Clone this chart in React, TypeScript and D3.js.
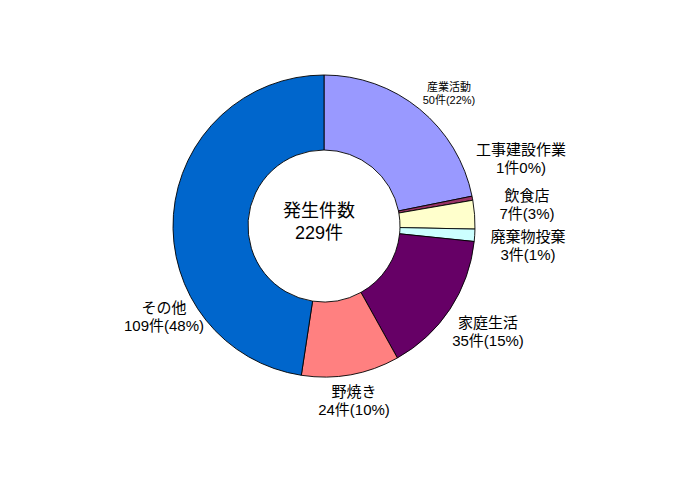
import { useEffect, useRef } from 'react';
import * as d3 from 'd3';

const categories = ['産業活動', '工事建設作業', '飲食店', '廃棄物投棄', '家庭生活', '野焼き', 'その他'];
const counts = [50, 1, 7, 3, 35, 24, 109];
const valueLabels = ['50件(22%)', '1件0%)', '7件(3%)', '3件(1%)', '35件(15%)', '24件(10%)', '109件(48%)'];
const colors = ['#9999FF', '#993366', '#FFFFCC', '#CCFFFF', '#660066', '#FF8080', '#0066CC'];
const centerTitle = '発生件数';
const centerValue = '229件';

// label anchor points (centre of text block), relative to the pie centre
const labelOffsets: [number, number][] = [
  [125, -133],
  [197, -68],
  [203, -22],
  [204, 19],
  [164, 105],
  [30, 174],
  [-160, 90],
];
const labelFontSizes = [11, 15, 15, 15, 15, 15, 15];

const FONT = '"Liberation Sans", "Noto Sans CJK JP", sans-serif';

export default function App() {
  const svgRef = useRef<SVGSVGElement>(null);
  const width = 700;
  const height = 495;

  useEffect(() => {
    document.body.style.margin = '0';
    if (!svgRef.current) return;

    const svg = d3.select(svgRef.current);
    svg.selectAll('*').remove();

    svg.append('rect')
      .attr('width', width)
      .attr('height', height)
      .attr('fill', '#fff');

    const cx = 324;
    const cy = 226;
    const outerR = 151;
    const innerR = 76;

    const g = svg.append('g')
      .attr('transform', `translate(${cx},${cy})`);

    const pie = d3.pie<number>()
      .sort(null)
      .value(d => d);

    const arc = d3.arc<d3.PieArcDatum<number>>()
      .innerRadius(innerR)
      .outerRadius(outerR);

    g.selectAll('.slice')
      .data(pie(counts))
      .enter()
      .append('path')
      .attr('class', 'slice')
      .attr('d', arc)
      .attr('fill', (_, i) => colors[i])
      .attr('stroke', '#000')
      .attr('stroke-width', 0.9);

    // Centre text
    g.append('text')
      .attr('x', -5)
      .attr('y', -9)
      .attr('text-anchor', 'middle')
      .style('font-family', FONT)
      .style('font-size', '18px')
      .style('fill', '#000')
      .text(centerTitle);

    g.append('text')
      .attr('x', -5)
      .attr('y', 13)
      .attr('text-anchor', 'middle')
      .style('font-family', FONT)
      .style('font-size', '18px')
      .style('fill', '#000')
      .text(centerValue);

    // Slice labels
    categories.forEach((name, i) => {
      const [dx, dy] = labelOffsets[i];
      const fs = labelFontSizes[i];
      const lh = fs * 1.2;
      const t = g.append('text')
        .attr('text-anchor', 'middle')
        .style('font-family', FONT)
        .style('font-size', `${fs}px`)
        .style('fill', '#000');
      t.append('tspan')
        .attr('x', dx)
        .attr('y', dy - lh / 2 + fs * 0.38)
        .text(name);
      t.append('tspan')
        .attr('x', dx)
        .attr('y', dy + lh / 2 + fs * 0.38)
        .text(valueLabels[i]);
    });
  }, []);

  return (
    <svg
      ref={svgRef}
      width={width}
      height={height}
      style={{ display: 'block' }}
    />
  );
}
